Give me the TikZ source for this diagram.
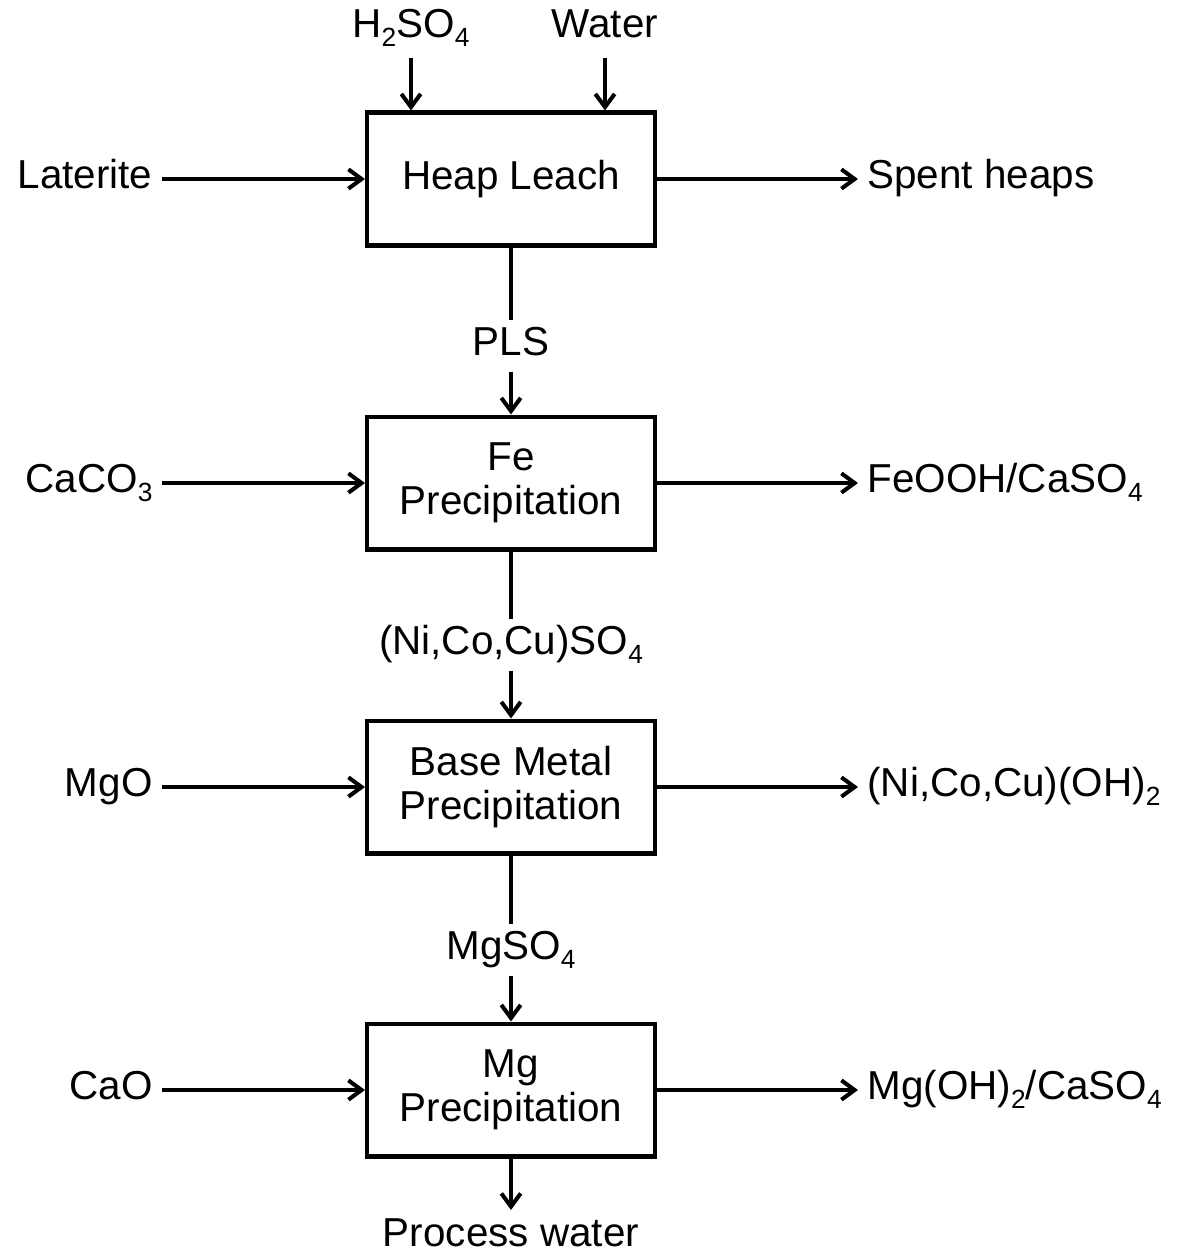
\documentclass[tikz,border=0pt]{standalone}
\usepackage{fontspec}
\setmainfont{Liberation Sans}
\usetikzlibrary{calc,positioning}
\usetikzlibrary{arrows.meta}
\newcommand{\chemsub}[1]{\raisebox{-5pt}{\fontsize{15}{15}\selectfont #1}}

\begin{document}
\begin{tikzpicture}[>={Straight Barb[length=7.5pt,width=11pt]},x=0.02cm,y=-0.02cm,
		line width=2.3pt,font=\fontsize{23}{25}\selectfont,
		unit/.style={draw,align=center,minimum width=5.76cm,minimum height=2.66cm},
		feed/.style={inner sep=0.15cm,text height=17pt,text depth=5.75pt},
		stream/.style={feed,inner ysep=2pt}]
		\useasboundingbox (0,0) rectangle (1180,1255);

		% process units
		\node[unit] (HL) at (511,179) {Heap Leach};
		\node[unit] (FE) at (511,483) {Fe\\Precipitation};
		\node[unit] (BM) at (511,787) {Base Metal\\Precipitation};
		\node[unit] (MG) at (511,1090) {Mg\\Precipitation};

		% feeds and products
		\node[feed] (ACID) at (411,28) {H\chemsub{2}SO\chemsub{4}};
		\node[feed] (WAT) at (605,28) {Water};
		\node[feed,anchor=east] (LAT) at (162,179) {Laterite};
		\node[feed,anchor=east] (CC) at (162,483) {CaCO\chemsub{3}};
		\node[feed,anchor=east] (MGO) at (162,787) {MgO};
		\node[feed,anchor=east] (CAO) at (162,1090) {CaO};
		\node[feed,anchor=west] (SH) at (858,179) {Spent heaps};
		\node[feed,anchor=west] (FEO) at (858,483) {FeOOH/CaSO\chemsub{4}};
		\node[feed,anchor=west] (HYD) at (858,787) {(Ni,Co,Cu)(OH)\chemsub{2}};
		\node[feed,anchor=west] (MGH) at (858,1090) {Mg(OH)\chemsub{2}/CaSO\chemsub{4}};
		\node[feed,inner ysep=0.1cm] (PW) at (511,1237) {Process water};

		% streams between units
		\node[stream] (PLS) at (511,346) {PLS};
		\node[stream] (SUL) at (511,645) {(Ni,Co,Cu)SO\chemsub{4}};
		\node[stream] (MGS) at (511,950) {MgSO\chemsub{4}};

		\path[->] (ACID) edge (ACID |- HL.north)
				  (WAT) edge (WAT |- HL.north)
				  (LAT) edge (HL) (CC) edge (FE) (MGO) edge (BM) (CAO) edge (MG)
				  (HL) edge (SH) (FE) edge (FEO) (BM) edge (HYD) (MG) edge (MGH)
				  (MG) edge (PW);
		\path (HL) edge (PLS) (FE) edge (SUL) (BM) edge (MGS);
		\path[->] (PLS) edge (FE) (SUL) edge (BM) (MGS) edge (MG);
	\end{tikzpicture}
\end{document}
